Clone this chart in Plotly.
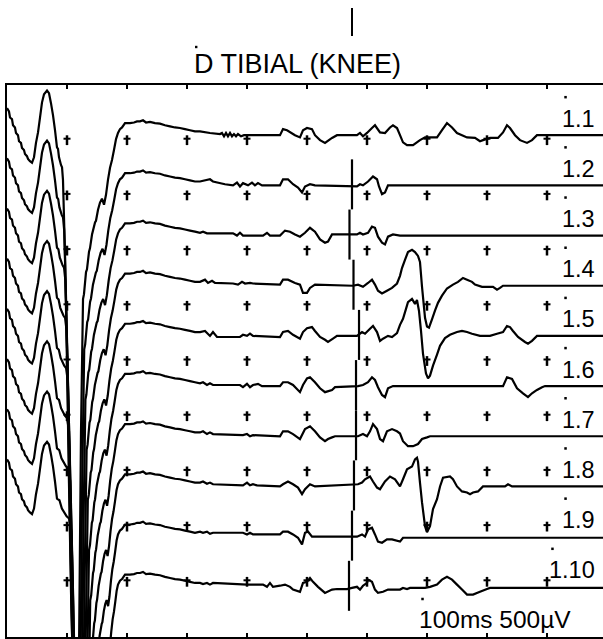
import plotly.graph_objects as go

# ---------------------------------------------------------------
# F-wave sweeps, D TIBIAL (KNEE): 10 stacked sweeps, 10 ms/div, 500 µV/div
# ---------------------------------------------------------------
title_text = "D TIBIAL (KNEE)"
scale_text = "100ms 500µV"
trace_labels = ["1.1", "1.2", "1.3", "1.4", "1.5", "1.6", "1.7", "1.8", "1.9", "1.10"]

# stimulus artefact + M response shared by every sweep (ms, µV above the sweep baseline)
m_wave_ms = [0.0, 0.33, 0.5, 0.83, 1.0, 1.33, 1.5, 1.83, 2.0, 2.33,
             2.5, 2.83, 3.0, 3.33, 3.5, 3.83, 4.17, 4.5, 4.83, 5.17,
             5.5, 5.83, 6.17, 6.67,
             7.0, 7.33, 7.67, 8.0, 8.33, 8.5, 8.67, 9.0, 9.17, 9.33,
             9.67, 10.0, 10.33, 10.67, 11.0, 11.33, 11.67, 12.0, 12.33, 12.67,
             12.83, 13.17, 13.33, 13.67, 13.83, 14.17, 14.67, 14.83, 15.17, 15.5,
             15.83, 16.17, 16.5, 16.83, 17.17, 17.5, 17.83, 18.17, 18.5,
             18.83, 19.17, 19.67, 20.5, 21.17, 21.67, 22.17, 22.67, 23.17, 23.83,
             24.67, 25.5, 26.33, 27.17, 28.0, 28.83, 29.67, 30.5, 31.33]
m_wave_uv = [245, 215, 160, 145, 90, 70, 20, 0, -55, -70,
             -115, -135, -170, -190, -215, -235, -250, -200, -70, 25,
             160, 295, 370, 405,
             380, 290, 180, 45, -110, -125, -200, -270, -290, -405,
             -1080, -2070, -3150, -4140, -4860, -5220, -5310, -4680, -2700, -1485,
             -1440, -1240, -1215, -1055, -1025, -900, -790, -775, -675, -610,
             -575, -630, -540, -405, -295, -225, -135, -35, 20,
             55, 70, 110, 110, 115, 125, 125, 135, 115, 120,
             110, 105, 90, 80, 70, 65, 55, 45, 35]

# M-response latency drift of each sweep (ms) and first sample of each sweep (ms)
m_shift_ms = [0.0, 0.2, 0.4, 0.6, 0.8, 1.0, 1.2, 1.4, 1.6, 1.8]
sweep_start_ms = [0.0, 0.0, 0.0, 0.0, 0.0, 0.0, 0.0, 0.0, 9.67, 9.67]

# late activity of each sweep (ms, µV above the sweep baseline)
late_ms_1 = [32.17, 33.83, 35.5, 35.83, 36.17, 36.5, 36.83, 37.17, 37.5, 37.83,
             38.17, 38.5, 39.0, 39.5, 45.5, 46.0, 46.67, 48.0, 48.83, 49.33,
             50.0, 50.83, 51.33, 52.17, 53.0, 54.17, 55.0, 58.33, 58.83, 59.33,
             60.0, 60.83, 61.33, 62.17, 63.0, 63.83, 64.33, 65.0, 65.5, 66.0,
             66.67, 67.67, 68.83, 69.67, 71.67, 72.5, 73.33, 74.17, 75.0, 76.67,
             78.0, 78.83, 79.33, 80.5, 81.83, 82.67, 83.33, 83.83, 84.67, 85.5,
             86.67, 87.5, 88.33, 100.0]
late_uv_1 = [35, 20, 10, 20, -10, 20, -10, 20, -10, 10,
             -10, 10, -10, 0, 0, 55, 45, 0, -20, 45,
             65, 55, 0, -45, -70, -25, 0, 0, 20, -10,
             20, 65, 90, 25, 20, 70, 90, 65, 0, -65,
             -90, -90, -45, -20, -20, 45, 110, 70, 20, -20,
             -25, -55, -45, -25, -25, 25, 90, 65, 0, -45,
             -70, -45, 0, 0]

late_ms_2 = [32.17, 33.83, 34.33, 36.33, 37.67, 38.33, 38.83, 39.33, 40.17, 40.83,
             41.33, 41.83, 42.5, 45.5, 46.0, 46.83, 47.67, 48.5, 49.17, 49.67,
             50.5, 51.33, 58.33, 58.83, 59.33, 60.17, 61.0, 61.67, 62.0, 62.5,
             63.0, 63.5, 100.0]
late_uv_2 = [35, 55, 35, 10, 0, 25, -10, 20, 0, 25,
             0, 20, 0, 0, 55, 55, 10, -20, -65, -10,
             10, 0, -10, 10, 0, 35, 80, 55, -10, -80,
             -65, 0, 0]

late_ms_3 = [32.17, 32.67, 33.33, 37.67, 38.33, 38.83, 39.33, 42.67, 43.33, 43.83,
             45.5, 46.33, 47.17, 48.0, 48.83, 49.67, 50.5, 51.33, 52.17, 53.0,
             53.5, 54.17, 58.33, 58.83, 59.33, 60.17, 60.83, 61.33, 61.83, 62.5,
             63.0, 63.5, 64.33, 65.5, 100.0]
late_uv_3 = [25, 35, 20, 20, 0, 25, 0, 0, 25, 0,
             0, 45, 35, 10, -10, 25, 70, 35, -35, -65,
             -55, 10, 10, 25, 10, 25, 80, 70, -10, -65,
             -80, -10, 10, 0, 0]

late_ms_4 = [32.17, 33.0, 33.5, 34.17, 34.67, 37.67, 38.5, 39.17, 39.67, 40.5,
             41.0, 45.5, 46.0, 46.83, 48.0, 48.83, 49.33, 50.0, 50.5, 51.33,
             57.67, 58.5, 59.33, 60.17, 60.83, 61.33, 61.83, 62.5, 63.33, 64.17,
             65.0, 65.5, 65.83, 66.33, 66.83, 67.5, 68.0, 68.5, 68.83, 69.17,
             69.67, 70.0, 70.33, 70.83, 71.33, 71.83, 72.5, 73.33, 74.33, 75.17,
             76.0, 76.67, 77.5, 78.0, 79.17, 81.0, 81.67, 82.17, 82.67, 100.0]
late_uv_4 = [35, 55, 25, 45, 25, 20, 10, 35, 20, 25,
             20, 10, 55, 55, 25, 10, -65, -65, -20, 10,
             0, 10, -10, 25, 55, 10, -45, -70, -45, -20,
             20, 90, 160, 235, 305, 325, 305, 270, 215, -10,
             -290, -370, -380, -305, -225, -155, -90, -25, 10, 35,
             70, 55, 35, 10, -10, -10, -35, -20, 0, 0]

late_ms_5 = [32.17, 33.0, 33.83, 34.33, 35.0, 38.83, 39.33, 40.0, 40.5, 41.0,
             45.5, 46.0, 46.83, 47.67, 48.83, 49.33, 50.0, 50.83, 51.33, 52.17,
             53.0, 53.5, 54.33, 55.0, 58.33, 59.17, 59.67, 60.5, 61.0, 61.67,
             62.17, 62.67, 63.5, 64.17, 65.0, 65.5, 66.0, 66.5, 66.83, 67.5,
             68.0, 68.33, 68.67, 69.0, 69.33, 69.83, 70.17, 70.5, 71.0, 71.67,
             72.17, 73.0, 73.83, 75.0, 75.83, 76.67, 77.5, 78.83, 80.5, 81.67,
             82.67, 83.33, 83.83, 84.33, 85.17, 86.33, 86.83, 87.5, 88.33, 100.0]
late_uv_5 = [35, 45, 0, 35, -10, -10, 10, 0, 20, 0,
             -10, 35, 45, 10, -25, 35, 70, 80, 45, -10,
             -35, -55, -25, 0, 0, 35, 20, 65, 90, 35,
             -45, -25, 0, -10, 25, 100, 155, 245, 305, 335,
             290, 325, 225, 45, -160, -340, -385, -360, -270, -170,
             -90, -20, 10, 35, 45, 35, 20, 0, 0, 20,
             35, 90, 80, 45, -10, -55, -70, -45, 0, 0]

late_ms_6 = [32.17, 32.67, 33.33, 33.83, 34.33, 38.83, 39.33, 40.0, 40.5, 41.0,
             41.83, 42.5, 45.5, 46.0, 46.83, 47.67, 48.83, 49.33, 50.0, 50.5,
             51.33, 52.17, 53.0, 54.17, 54.67, 58.5, 59.33, 60.17, 60.83, 61.33,
             61.83, 62.5, 63.0, 63.5, 64.33, 82.67, 83.33, 84.17, 85.0, 86.0,
             86.83, 87.5, 88.33, 89.17, 89.67, 100.0]
late_uv_6 = [25, 35, 10, 25, 10, 10, -10, 20, -10, 10,
             20, 0, 0, 35, 35, 10, -55, 10, 70, 80,
             35, -20, -55, -35, -10, 0, 10, 35, 80, 55,
             -10, -80, -100, -20, 0, 0, 80, 65, -20, -65,
             -100, -65, -35, -10, 0, 0]

late_ms_7 = [32.17, 32.67, 33.33, 33.83, 34.33, 39.33, 40.0, 40.5, 41.0, 45.5,
             46.0, 46.83, 47.67, 48.83, 49.67, 50.5, 51.33, 52.17, 53.0, 53.5,
             54.17, 54.67, 58.5, 59.33, 60.0, 60.5, 61.0, 61.67, 62.17, 62.67,
             63.33, 64.17, 65.0, 65.5, 66.0, 66.83, 67.67, 68.5, 69.17, 70.0,
             70.5, 100.0]
late_uv_7 = [35, 45, 20, 35, 20, 10, 20, 0, 10, 0,
             45, 45, 20, -25, 65, 90, 45, -10, -45, -25,
             -10, 0, 0, 20, 0, 45, 110, 65, -25, -45,
             45, 65, 45, 25, -45, -90, -90, -70, -25, -10,
             0, 0]

late_ms_8 = [32.17, 32.67, 33.33, 33.83, 34.33, 39.33, 40.0, 40.5, 41.0, 41.67,
             45.5, 46.0, 46.83, 47.67, 48.5, 49.17, 49.67, 50.5, 51.33, 58.5,
             59.17, 59.67, 60.5, 61.0, 61.67, 62.17, 63.0, 63.83, 64.67, 65.5,
             66.0, 66.67, 67.5, 68.0, 68.33, 68.5, 68.83, 69.17, 69.67, 70.0,
             70.5, 71.0, 71.67, 72.17, 72.67, 73.83, 74.33, 75.0, 75.83, 76.67,
             77.17, 77.67, 78.5, 79.33, 83.0, 83.5, 84.17, 100.0]
late_uv_8 = [35, 45, 25, 35, 20, 10, 35, 10, 20, 10,
             0, 20, 45, 20, -10, -70, -25, 20, 0, 20,
             35, 65, 90, 45, -10, -25, 45, 90, 65, 0,
             65, 155, 180, 245, 260, 225, 35, -145, -360, -415,
             -360, -205, -115, 0, 80, 90, 65, 0, -45, -55,
             -70, -55, -45, 0, 0, 20, 0, 0]

late_ms_9 = [32.17, 32.67, 33.33, 33.83, 34.33, 39.33, 40.0, 40.5, 41.0, 45.5,
             46.0, 46.83, 47.67, 48.5, 49.17, 49.67, 50.17, 50.83, 58.33, 59.17,
             59.67, 60.17, 60.83, 61.33, 61.83, 62.5, 63.33, 64.17, 65.5, 66.0,
             100.0]
late_uv_9 = [45, 35, 45, 25, 35, 35, 20, 35, 20, 20,
             45, 45, 20, -10, -70, 35, 45, 0, 0, 20,
             0, 65, 80, 20, -45, -55, -25, -25, -45, -10,
             -10]

late_ms_10 = [32.17, 32.67, 33.33, 33.83, 34.33, 40.0, 42.67, 43.33, 43.83, 44.33,
              45.5, 46.33, 47.17, 47.67, 48.83, 49.33, 50.0, 50.5, 51.0, 51.83,
              53.0, 54.17, 55.0, 56.67, 57.5, 58.33, 58.83, 59.33, 60.0, 60.17,
              60.83, 61.33, 61.83, 62.67, 63.5, 65.5, 66.0, 66.67, 67.17, 69.67,
              70.5, 71.67, 72.5, 73.33, 74.17, 75.0, 75.83, 76.67, 77.67, 78.83,
              80.0, 80.5, 100.0]
late_uv_10 = [35, 25, 35, 20, 35, 20, 20, 0, 35, 0,
              10, 20, 0, -25, -45, 35, 45, 80, 45, 0,
              -55, -25, -20, -20, -10, 0, -25, 10, 35, 65,
              45, -25, -55, -45, -25, -25, -10, -20, -10, -10,
              0, 20, 65, 90, 65, 20, -25, -70, -70, -45,
              -20, -10, -10]

# F-latency cursor of each sweep (ms); the first sweep's cursor sits above the title
cursor_ms = [57.5, 57.5, 57.08, 57.75, 58.67, 58.17, 58.17, 57.83, 57.5, 57.0]

late_ms = [late_ms_1, late_ms_2, late_ms_3, late_ms_4, late_ms_5,
           late_ms_6, late_ms_7, late_ms_8, late_ms_9, late_ms_10]
late_uv = [late_uv_1, late_uv_2, late_uv_3, late_uv_4, late_uv_5,
           late_uv_6, late_uv_7, late_uv_8, late_uv_9, late_uv_10]

# ---------------------------------------------------------------
# page geometry
# ---------------------------------------------------------------
W, H = 603, 639
L, T, B = 7, 85, 637            # frame left / top / bottom (px)
MS_PER_DIV, UV_PER_DIV, NDIV = 10, 500, 10
PX_PER_MS = 6.0
X_MAX = (W - L) / PX_PER_MS
Y_SPAN = UV_PER_DIV * NDIV
UV_PER_PX = Y_SPAN / (B - T)

FONT = "Liberation Sans, Arial, sans-serif"
EM = {'0': .556, '1': .556, '5': .556, '.': .278, ' ': .278, 'm': .833, 's': .5,
      'µ': .577, 'V': .667, 'D': .722, 'T': .611, 'I': .278, 'B': .667, 'A': .667,
      'L': .556, '(': .333, ')': .333, 'K': .667, 'N': .722, 'E': .667}


def text_w(s, size):
    return sum(EM.get(c, .556) for c in s) * size


def px_x(px):          # page x (px) -> paper
    return (px - L) / (W - L)


def px_y(py):          # page y (px) -> paper
    return (B - py) / (B - T)


def drift_weight(t):
    """How much of a sweep's latency drift applies at template time t (ms)."""
    if t <= 8.33:
        return 0.0
    if t < 9.33:
        return t - 8.33
    if t <= 13.0:
        return 1.0
    if t < 18.5:
        return (18.5 - t) / 5.5
    return 0.0


n = len(trace_labels)
baselines = [-(i + 1) * Y_SPAN / (n + 1) for i in range(n)]

fig = go.Figure()

for i in range(n):
    xs, ys = [], []
    for t, v in zip(m_wave_ms, m_wave_uv):
        if t >= sweep_start_ms[i]:
            xs.append(t + m_shift_ms[i] * drift_weight(t))
            ys.append(baselines[i] + v)
    for t, v in zip(late_ms[i], late_uv[i]):
        xs.append(t)
        ys.append(baselines[i] + v)
    fig.add_trace(go.Scatter(x=xs, y=ys, mode="lines",
                             line=dict(color="black", width=2.2, simplify=False),
                             hoverinfo="skip", showlegend=False))

# latency cursors on sweeps 2..10
cx, cy = [], []
for i in range(1, n):
    cx += [cursor_ms[i], cursor_ms[i], None]
    cy += [baselines[i] + 26 * UV_PER_PX, baselines[i] - 24 * UV_PER_PX, None]
fig.add_trace(go.Scatter(x=cx, y=cy, mode="lines", line=dict(color="black", width=2.2),
                         hoverinfo="skip", showlegend=False))

# cursor of sweep 1, drawn above the title
fig.add_shape(type="line", xref="x", yref="paper", x0=cursor_ms[0], x1=cursor_ms[0],
              y0=px_y(36), y1=px_y(8), line=dict(color="black", width=2))

# division crosses
gx, gy = [], []
for k in range(1, NDIV):
    for j in range(1, NDIV):
        gx.append(k * MS_PER_DIV)
        gy.append(-j * UV_PER_DIV)
fig.add_trace(go.Scatter(x=gx, y=gy, mode="markers",
                         marker=dict(symbol="line-ns", size=7, line=dict(color="black", width=2.5)),
                         hoverinfo="skip", showlegend=False))
fig.add_trace(go.Scatter(x=gx, y=[v + 1.5 * UV_PER_PX for v in gy], mode="markers",
                         marker=dict(symbol="line-ew", size=5, line=dict(color="black", width=2)),
                         hoverinfo="skip", showlegend=False))

# sweep labels with their anchor dots
LABEL_SIZE = 23.5
label_right = X_MAX - 6 / PX_PER_MS
dot_x, dot_y = [], []
for i, lab in enumerate(trace_labels):
    fig.add_annotation(x=label_right, y=baselines[i] + 16.5 * UV_PER_PX, xref="x", yref="y",
                       text=lab, showarrow=False, xanchor="right", yanchor="middle",
                       font=dict(family=FONT, size=LABEL_SIZE, color="black"))
    dot_x.append(label_right - text_w(lab, LABEL_SIZE) / PX_PER_MS + 0.2)
    dot_y.append(baselines[i] + 38 * UV_PER_PX)

# scale annotation
SCALE_SIZE = 24.5
scale_right = (573 - L) / PX_PER_MS
scale_mid = -(619 - T) * UV_PER_PX
fig.add_annotation(x=scale_right, y=scale_mid, xref="x", yref="y", text=scale_text,
                   showarrow=False, xanchor="right", yanchor="middle",
                   font=dict(family=FONT, size=SCALE_SIZE, color="black"))
dot_x.append(scale_right - text_w(scale_text, SCALE_SIZE) / PX_PER_MS + 0.2)
dot_y.append(scale_mid + 20 * UV_PER_PX)

fig.add_trace(go.Scatter(x=dot_x, y=dot_y, mode="markers",
                         marker=dict(symbol="square", size=2.5, color="black"),
                         hoverinfo="skip", showlegend=False))

# title
TITLE_SIZE = 27
title_cx = 297.5
fig.add_annotation(x=px_x(title_cx), y=px_y(64.5), xref="paper", yref="paper", text=title_text,
                   showarrow=False, xanchor="center", yanchor="middle",
                   font=dict(family=FONT, size=TITLE_SIZE, color="black"))
tdx = title_cx - text_w(title_text, TITLE_SIZE) / 2 + 3
fig.add_shape(type="rect", xref="paper", yref="paper",
              x0=px_x(tdx - 1.2), x1=px_x(tdx + 1.2), y0=px_y(48.2), y1=px_y(45.8),
              fillcolor="black", line=dict(width=0))

fig.update_xaxes(range=[0, X_MAX], showgrid=False, zeroline=False, showline=True,
                 linecolor="black", linewidth=2, mirror="ticks", ticks="inside",
                 ticklen=4, tickwidth=2, tickcolor="black", tick0=0, dtick=MS_PER_DIV,
                 showticklabels=False, fixedrange=True)
fig.update_yaxes(range=[-Y_SPAN, 0], showgrid=False, zeroline=False, showline=True,
                 linecolor="black", linewidth=2, ticks="", showticklabels=False,
                 fixedrange=True)
fig.update_layout(width=W, height=H, margin=dict(l=L, r=0, t=T, b=H - B, pad=0),
                  plot_bgcolor="white", paper_bgcolor="white", showlegend=False)

fig.write_html("out.html", config={"displayModeBar": False})
